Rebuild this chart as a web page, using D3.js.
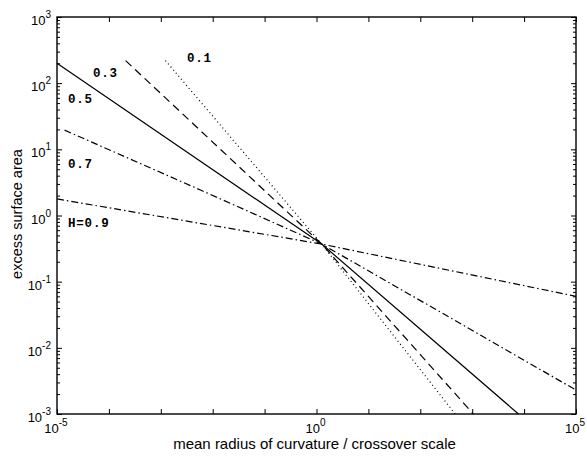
<!DOCTYPE html>
<html>
<head>
<meta charset="utf-8">
<script src="https://cdn.jsdelivr.net/npm/d3@7"></script>
<style>
  body { margin: 0; background: #fff; }
  svg { display: block; }
</style>
</head>
<body>
<div id="chart"></div>
<script>
// values (log-log)
var hLabels = ["0.1", "0.3", "0.5", "0.7", "H=0.9"];

var xH01 = [1.23e-3, 1.26, 470];
var yH01 = [219, 0.37, 0.001];

var xH03 = [2.1e-4, 1.26, 1050];
var yH03 = [219, 0.37, 0.001];

var xH05 = [1e-5, 1.26, 7800];
var yH05 = [200, 0.37, 0.001];

var xH07 = [1.4e-5, 5.8e-3, 1.26, 178, 1e5];
var yH07 = [19.5, 2.43, 0.37, 0.04, 0.0023];

var xH09 = [1e-5, 1.26, 1e5];
var yH09 = [1.78, 0.37, 0.06];

var xTicks = [1e-5, 1e-4, 1e-3, 1e-2, 1e-1, 1e0, 1e1, 1e2, 1e3, 1e4, 1e5];
var xTickLabels = ["-5", "0", "5"]; // exponents shown
var yTickExp = ["-3", "-2", "-1", "0", "1", "2", "3"];

var W = 587, H = 458;
var marginLeft = 57, marginRight = 11, marginTop = 17, marginBottom = 44;
var width = W - marginLeft - marginRight;
var height = H - marginTop - marginBottom;

var svg = d3.select('#chart')
  .append('svg')
  .attr('width', W)
  .attr('height', H)
  .style('font-family', '"Liberation Sans", Arial, sans-serif');

var g = svg.append('g')
  .attr('transform', 'translate(' + marginLeft + ',' + marginTop + ')');

var x = d3.scaleLog().domain([1e-5, 1e5]).range([0, width]);
var y = d3.scaleLog().domain([1e-3, 1e3]).range([height, 0]);

// minor y ticks 2..9 per decade
var yMinor = [];
for (var e = -3; e < 3; e++) {
  for (var k = 2; k <= 9; k++) yMinor.push(k * Math.pow(10, e));
}
var yMajor = yTickExp.map(function(s) { return Math.pow(10, +s); });

function styleAxis(sel) {
  sel.select('.domain').remove();
  sel.selectAll('.tick line').attr('stroke', '#000').attr('stroke-width', 1);
}

// inward ticks on all four sides
g.append('g').attr('transform', 'translate(0,' + height + ')')
  .call(d3.axisBottom(x).tickValues(xTicks).tickSize(-5).tickFormat(''))
  .call(styleAxis);
g.append('g')
  .call(d3.axisTop(x).tickValues(xTicks).tickSize(-5).tickFormat(''))
  .call(styleAxis);
g.append('g')
  .call(d3.axisLeft(y).tickValues(yMajor).tickSize(-5).tickFormat(''))
  .call(styleAxis);
g.append('g')
  .call(d3.axisLeft(y).tickValues(yMinor).tickSize(-3).tickFormat(''))
  .call(styleAxis);
g.append('g').attr('transform', 'translate(' + width + ',0)')
  .call(d3.axisRight(y).tickValues(yMajor).tickSize(-5).tickFormat(''))
  .call(styleAxis);
g.append('g').attr('transform', 'translate(' + width + ',0)')
  .call(d3.axisRight(y).tickValues(yMinor).tickSize(-3).tickFormat(''))
  .call(styleAxis);

// frame
g.append('rect')
  .attr('x', 0).attr('y', 0)
  .attr('width', width).attr('height', height)
  .attr('fill', 'none')
  .attr('stroke', '#000')
  .attr('stroke-width', 1.4);

// tick labels as 10^n
function powLabel(parent, px, py, exp, anchor) {
  var t = parent.append('text')
    .attr('x', px).attr('y', py)
    .attr('text-anchor', anchor)
    .style('font-size', '13px')
    .attr('fill', '#000');
  t.append('tspan').text('10');
  t.append('tspan').attr('dy', -7).style('font-size', '10px').text(exp);
}

xTickLabels.forEach(function(s) {
  powLabel(g, x(Math.pow(10, +s)) - 1, height + 19, s, 'middle');
});
yTickExp.forEach(function(s) {
  powLabel(g, -6, y(Math.pow(10, +s)) + 8, s, 'end');
});

// lines
var line = d3.line()
  .x(function(d) { return x(d[0]); })
  .y(function(d) { return y(d[1]); });

var series = [
  { xs: xH01, ys: yH01, dash: '1,3' },
  { xs: xH03, ys: yH03, dash: '8,5' },
  { xs: xH05, ys: yH05, dash: null },
  { xs: xH07, ys: yH07, dash: '7,3,1.5,3' },
  { xs: xH09, ys: yH09, dash: '7,3,1.5,3' }
];

series.forEach(function(s) {
  var pts = s.xs.map(function(v, i) { return [v, s.ys[i]]; });
  g.append('path')
    .datum(pts)
    .attr('fill', 'none')
    .attr('stroke', '#000')
    .attr('stroke-width', 1.2)
    .attr('stroke-dasharray', s.dash)
    .attr('d', line);
});

// line labels
var labelPos = [[130, 45], [36, 60], [11, 86], [11, 151], [11, 210]];
hLabels.forEach(function(t, i) {
  g.append('text')
    .attr('x', labelPos[i][0])
    .attr('y', labelPos[i][1])
    .style('font-family', '"Liberation Mono", "Courier New", monospace')
    .style('font-size', '12.5px')
    .style('font-weight', 'bold')
    .style('letter-spacing', '0.8px')
    .text(t);
});

// axis titles
svg.append('text')
  .attr('x', marginLeft + width / 2 - 2)
  .attr('y', 449)
  .attr('text-anchor', 'middle')
  .style('font-size', '15px')
  .text('mean radius of curvature / crossover scale');

svg.append('text')
  .attr('transform', 'translate(22,' + 214 + ') rotate(-90)')
  .attr('text-anchor', 'middle')
  .style('font-size', '14.5px')
  .text('excess surface area');
</script>
</body>
</html>
